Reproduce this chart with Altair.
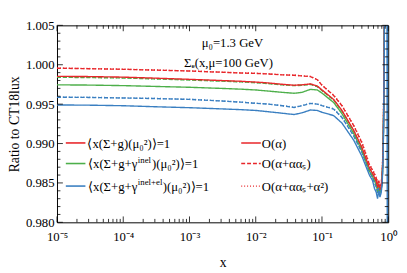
import altair as alt
import pandas as pd

# ---------------- data ----------------
x_grid = [1e-5, 3e-5, 1e-4, 3e-4, 1e-3, 3e-3, 6e-3, 0.01, 0.015, 0.025, 0.038, 0.05,
          0.067, 0.085, 0.1, 0.15, 0.2, 0.3, 0.4, 0.52, 0.58, 0.62, 0.66, 0.69, 0.72,
          0.75, 0.78, 0.81, 0.84, 0.87, 0.89, 0.92, 0.95, 0.97, 0.99]

red_solid = [0.99853, 0.99850, 0.99843, 0.99830, 0.99815, 0.99800, 0.99790, 0.99780, 0.99770,
             0.99752, 0.99740, 0.99745, 0.99757, 0.99730, 0.99680, 0.99560, 0.99420, 0.99170,
             0.98950, 0.98690, 0.98620, 0.98570, 0.98520, 0.98450, 0.98480, 0.98420, 0.98440,
             0.98560, 0.98950, 1.00100, 1.02000, 1.03000, 1.03000, 1.03000, 1.03000]
red_dashed = [0.99956, 0.99950, 0.99942, 0.99932, 0.99920, 0.99905, 0.99895, 0.99890, 0.99884,
              0.99872, 0.99866, 0.99858, 0.99850, 0.99810, 0.99740, 0.99610, 0.99480, 0.99230,
              0.99010, 0.98730, 0.98660, 0.98610, 0.98560, 0.98500, 0.98520, 0.98460, 0.98480,
              0.98600, 0.99000, 1.00200, 1.02000, 1.03000, 1.03000, 1.03000, 1.03000]
red_dotted = [0.99958, 0.99952, 0.99944, 0.99934, 0.99922, 0.99907, 0.99897, 0.99892, 0.99886,
              0.99874, 0.99868, 0.99860, 0.99852, 0.99812, 0.99742, 0.99615, 0.99485, 0.99235,
              0.99020, 0.98740, 0.98670, 0.98620, 0.98570, 0.98510, 0.98530, 0.98470, 0.98490,
              0.98610, 0.99020, 1.00300, 1.02000, 1.03000, 1.03000, 1.03000, 1.03000]
green_solid = [0.99745, 0.99742, 0.99735, 0.99725, 0.99714, 0.99700, 0.99690, 0.99680, 0.99667,
               0.99650, 0.99638, 0.99650, 0.99688, 0.99680, 0.99640, 0.99521, 0.99380, 0.99130,
               0.98910, 0.98650, 0.98580, 0.98530, 0.98470, 0.98400, 0.98440, 0.98380, 0.98400,
               0.98520, 0.98900, 1.00000, 1.02000, 1.03000, 1.03000, 1.03000, 1.03000]
green_dashed = [0.99840, 0.99838, 0.99832, 0.99820, 0.99806, 0.99792, 0.99782, 0.99772, 0.99762,
                0.99744, 0.99735, 0.99740, 0.99750, 0.99722, 0.99672, 0.99552, 0.99412, 0.99162,
                0.98940, 0.98680, 0.98610, 0.98560, 0.98510, 0.98440, 0.98470, 0.98410, 0.98430,
                0.98550, 0.98940, 1.00100, 1.02000, 1.03000, 1.03000, 1.03000, 1.03000]
green_dotted = [0.99842, 0.99840, 0.99834, 0.99822, 0.99808, 0.99794, 0.99784, 0.99774, 0.99764,
                0.99746, 0.99737, 0.99742, 0.99752, 0.99724, 0.99675, 0.99556, 0.99416, 0.99168,
                0.98948, 0.98690, 0.98620, 0.98570, 0.98520, 0.98450, 0.98480, 0.98420, 0.98440,
                0.98560, 0.98960, 1.00200, 1.02000, 1.03000, 1.03000, 1.03000, 1.03000]
blue_solid = [0.99490, 0.99487, 0.99480, 0.99467, 0.99455, 0.99440, 0.99430, 0.99420, 0.99405,
              0.99385, 0.99368, 0.99390, 0.99426, 0.99420, 0.99397, 0.99355, 0.99260, 0.99045,
              0.98840, 0.98600, 0.98530, 0.98430, 0.98380, 0.98300, 0.98400, 0.98320, 0.98370,
              0.98480, 0.98860, 0.99900, 1.02000, 1.03000, 1.03000, 0.97000, 1.03000]
blue_dashed = [0.99588, 0.99585, 0.99578, 0.99571, 0.99560, 0.99540, 0.99525, 0.99510, 0.99501,
               0.99480, 0.99458, 0.99480, 0.99510, 0.99500, 0.99480, 0.99438, 0.99330, 0.99100,
               0.98890, 0.98640, 0.98570, 0.98500, 0.98450, 0.98370, 0.98430, 0.98350, 0.98390,
               0.98500, 0.98880, 0.99950, 1.02000, 1.03000, 1.03000, 1.03000, 1.03000]
blue_dotted = [0.99590, 0.99587, 0.99580, 0.99573, 0.99562, 0.99542, 0.99527, 0.99512, 0.99503,
               0.99482, 0.99460, 0.99482, 0.99512, 0.99502, 0.99483, 0.99442, 0.99335, 0.99105,
               0.98898, 0.98650, 0.98580, 0.98510, 0.98460, 0.98380, 0.98440, 0.98360, 0.98400,
               0.98510, 0.98900, 1.00050, 1.02000, 1.03000, 1.03000, 1.03000, 0.97000]

series_names = ["red_dotted", "green_dotted",
                "blue_dashed", "green_dashed", "red_dashed",
                "green_solid", "red_solid", "blue_solid", "blue_dotted"]
series_values = [red_dotted, green_dotted,
                 blue_dashed, green_dashed, red_dashed,
                 green_solid, red_solid, blue_solid, blue_dotted]

x_tick_values = [1e-5, 1e-4, 1e-3, 1e-2, 1e-1, 1.0]
x_tick_labels = ["10⁻⁵", "10⁻⁴", "10⁻³", "10⁻²", "10⁻¹", "10⁰"]
y_tick_values = [0.980, 0.985, 0.990, 0.995, 1.000, 1.005]

# legend texts: (prefix, superscript, suffix)
legend_left_parts = [("⟨x(Σ+g)(μ₀²)⟩=1", "", ""),
                     ("⟨x(Σ+g+γ", "inel", ")(μ₀²)⟩=1"),
                     ("⟨x(Σ+g+γ", "inel+el", ")(μ₀²)⟩=1")]
legend_right_labels = ["O(α)", "O(α+ααₛ)", "O(α+ααₛ+α²)"]
annot_lines = ["μ₀=1.3 GeV", "Σₑ(x,μ=100 GeV)"]

# ---------------- styling ----------------
RED, GREEN, BLUE = "#e8262a", "#4daf4a", "#3a7fc1"
color_of = {"red": RED, "green": GREEN, "blue": BLUE}
dash_of = {"solid": [1, 0], "dashed": [4, 2], "dotted": [1, 2]}
FONT = "Liberation Serif"
W, H = 338, 201

rows = []
for name, vals in zip(series_names, series_values):
    for xv, yv in zip(x_grid, vals):
        rows.append({"x": xv, "y": yv, "series": name})
df = pd.DataFrame(rows)

xscale = alt.Scale(type="log", domain=[1e-5, 1.0], nice=False)
yscale = alt.Scale(domain=[0.980, 1.005], nice=False, zero=False)

label_expr = "[" + ",".join("'%s'" % s for s in x_tick_labels) + "][round(log(datum.value)/LN10)+5]"

x_axis = alt.Axis(values=x_tick_values, labelExpr=label_expr, ticks=False, domain=False,
                  grid=False, labelPadding=9, title="x", titlePadding=12,
                  labelFontSize=13, titleFontSize=14, labelFont=FONT, titleFont=FONT,
                  labelColor="black", titleColor="black", titleFontWeight="normal",
                  labelFlush=False)
y_axis = alt.Axis(values=y_tick_values, format=".3f", ticks=False, domain=False,
                  grid=False, labelPadding=3, title="Ratio to CT18lux", titlePadding=4,
                  labelFontSize=13, titleFontSize=14, labelFont=FONT, titleFont=FONT,
                  labelColor="black", titleColor="black", titleFontWeight="normal")

lines = alt.Chart(df).mark_line(clip=True, strokeWidth=1.4).encode(
    x=alt.X("x:Q", scale=xscale, axis=x_axis),
    y=alt.Y("y:Q", scale=yscale, axis=y_axis),
    color=alt.Color("series:N", legend=None,
                    scale=alt.Scale(domain=series_names,
                                    range=[color_of[n.split("_")[0]] for n in series_names])),
    strokeDash=alt.StrokeDash("series:N", legend=None,
                              scale=alt.Scale(domain=series_names,
                                              range=[dash_of[n.split("_")[1]] for n in series_names])),
    order=alt.Order("x:Q"),
    detail="series:N",
)

# ---------------- inward ticks ----------------
x_minor = [k * 10.0 ** e for e in range(-5, 0) for k in range(2, 10)]
y_minor = [round(0.980 + 0.001 * i, 3) for i in range(26) if i % 5 != 0]

def xticks(vals, length):
    d = pd.DataFrame({"t": vals})
    bottom = alt.Chart(d).mark_rule(color="black", strokeWidth=0.8).encode(
        x=alt.X("t:Q", scale=xscale, axis=x_axis), y=alt.value(H), y2=alt.value(H - length))
    top = alt.Chart(d).mark_rule(color="black", strokeWidth=0.8).encode(
        x=alt.X("t:Q", scale=xscale, axis=x_axis), y=alt.value(0), y2=alt.value(length))
    return [bottom, top]

def yticks(vals, length):
    d = pd.DataFrame({"t": vals})
    left = alt.Chart(d).mark_rule(color="black", strokeWidth=0.8).encode(
        y=alt.Y("t:Q", scale=yscale, axis=y_axis), x=alt.value(0), x2=alt.value(length))
    right = alt.Chart(d).mark_rule(color="black", strokeWidth=0.8).encode(
        y=alt.Y("t:Q", scale=yscale, axis=y_axis), x=alt.value(W), x2=alt.value(W - length))
    return [left, right]

tick_layers = xticks(x_tick_values, 6) + xticks(x_minor, 3.5) + yticks(y_tick_values, 6) + yticks(y_minor, 3.5)

# ---------------- legend & annotation ----------------
one = pd.DataFrame({"a": [0]})

def txt(text, x, y, size=13, align="left"):
    return alt.Chart(one).mark_text(align=align, baseline="middle", font=FONT,
                                    fontSize=size, color="black").encode(
        x=alt.value(x), y=alt.value(y), text=alt.value(text))

legend_layers = []
left_colors = [RED, GREEN, BLUE]
row_y = [120, 141, 164]
SUP_W = {"inel": 14, "inel+el": 25}
for (pre, sup, suf), col, yy in zip(legend_left_parts, left_colors, row_y):
    legend_layers.append(alt.Chart(one).mark_rule(color=col, strokeWidth=1.6).encode(
        x=alt.value(9), x2=alt.value(29), y=alt.value(yy)))
    if sup:
        P = 82
        legend_layers.append(txt(pre, P, yy + 1, align="right"))
        legend_layers.append(txt(sup, P + 0.5, yy - 4, size=9))
        legend_layers.append(txt(suf, P + SUP_W[sup] + 1, yy + 1))
    else:
        legend_layers.append(txt(pre, 31, yy + 1))
for lab, dash, yy in zip(legend_right_labels, ["solid", "dashed", "dotted"], row_y):
    legend_layers.append(alt.Chart(one).mark_rule(color=RED, strokeWidth=1.4,
                                                  strokeDash=dash_of[dash]).encode(
        x=alt.value(188), x2=alt.value(208), y=alt.value(yy)))
    legend_layers.append(txt(lab, 209, yy + 1))

annot_layers = []
for lab, ax, ay in zip(annot_lines, [179, 175], [18, 39]):
    annot_layers.append(txt(lab, ax, ay, align="center"))

chart = alt.layer(lines, *tick_layers, *legend_layers, *annot_layers).properties(
    width=W, height=H,
    padding={"left": 50, "top": 15, "right": 11, "bottom": 49},
    autosize=alt.AutoSizeParams(type="none"),
    background="white",
).configure_view(stroke="black", strokeWidth=1)

chart.save("out.html", embed_options={"renderer": "svg", "actions": False})
